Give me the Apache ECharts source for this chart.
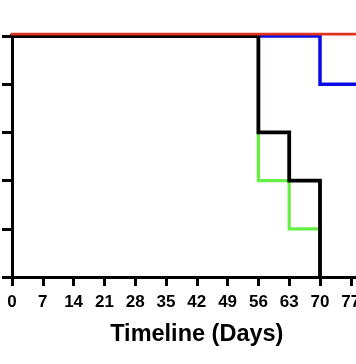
<!DOCTYPE html>
<html>
<head>
<meta charset="utf-8">
<script src="https://cdn.jsdelivr.net/npm/echarts@6/dist/echarts.min.js"></script>
<style>html,body{margin:0;padding:0;background:#fff}#c{width:356px;height:364px}</style>
</head>
<body>
<div id="c"></div>
<script>
// Timeline (days) ticks
var xTicks = [0, 7, 14, 21, 28, 35, 42, 49, 56, 63, 70, 77, 84];
var yTicks = [0, 20, 40, 60, 80, 100];
// Survival step data: [day, percent]
var redDays = [0, 84];
var redVals = [100.8, 100.8];
var blueDays = [0, 70, 84];
var blueVals = [100, 80, 80];
var greenDays = [0, 56, 63, 70];
var greenVals = [100, 40, 20, 0];
var blackDays = [0, 56, 63, 70];
var blackVals = [100, 60, 40, 0];

function pairs(d, v) { return d.map(function (x, i) { return [x, v[i]]; }); }
var FONT = 'Liberation Sans';
var chart = echarts.init(document.getElementById('c'), null, { renderer: 'canvas' });
function ser(name, d, v, color, z, w) {
  return {
    name: name, type: 'line', step: 'end', data: pairs(d, v),
    symbol: 'none', clip: false, z: z,
    lineStyle: { color: color, width: w, cap: 'square', join: 'miter' },
    animation: false
  };
}
chart.setOption({
  animation: false,
  grid: { left: 12, top: 36, width: 369.6, height: 241, containLabel: false, outerBoundsMode: 'none' },
  xAxis: {
    type: 'value', min: xTicks[0], max: xTicks[xTicks.length - 1], interval: 7,
    name: 'Timeline (Days)', nameLocation: 'middle', nameGap: 46,
    nameTextStyle: { fontFamily: FONT, fontWeight: 'bold', fontSize: 23.5, color: '#000' },
    axisLine: { lineStyle: { color: '#000', width: 3 } },
    axisTick: { length: 9, lineStyle: { color: '#000', width: 3 } },
    axisLabel: { fontFamily: FONT, fontWeight: 'bold', fontSize: 17, color: '#000', margin: 17 },
    splitLine: { show: false }
  },
  yAxis: {
    type: 'value', min: yTicks[0], max: yTicks[yTicks.length - 1], interval: 20,
    axisLine: { show: true, lineStyle: { color: '#000', width: 3 } },
    axisTick: { show: true, length: 10, lineStyle: { color: '#000', width: 3 } },
    axisLabel: { show: false },
    splitLine: { show: false }
  },
  series: [
    ser('Blue', blueDays, blueVals, '#0a0ae6', 2, 3.5),
    ser('Green', greenDays, greenVals, '#66ee44', 3, 3.2),
    ser('Black', blackDays, blackVals, '#000000', 4, 3.8),
    ser('Red', redDays, redVals, '#dd3322', 5, 2.8)
  ]
});
</script>
</body>
</html>
